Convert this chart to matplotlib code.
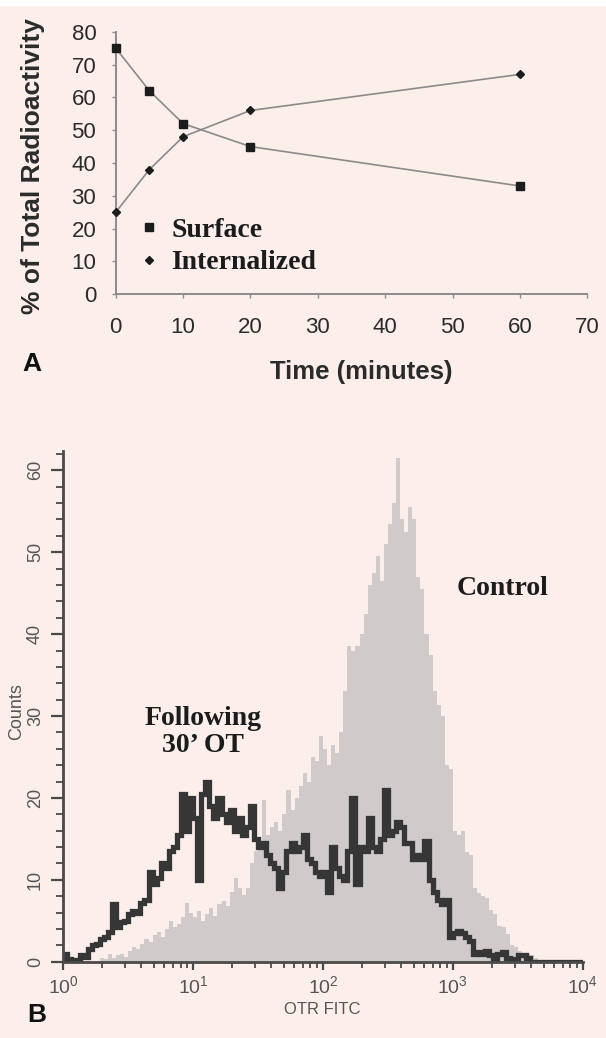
import matplotlib
matplotlib.use('Agg')
import numpy as np
import matplotlib.pyplot as plt
from matplotlib.patches import Rectangle
from matplotlib.ticker import MultipleLocator, LogLocator, NullFormatter

# ---- panel A: surface vs internalized radioactivity ----
times = [0, 5, 10, 20, 60]
surface = [75, 62, 52, 45, 33]
internalized = [25, 38, 48, 56, 67]

# ---- panel B: flow cytometry histograms (32 channels per decade, 10^0..10^4) ----
bins_per_decade = 32
control_counts = [
    0, 0, 0, 0, 0, 0, 0, 0, 0,
    0.5, 0.3, 1.0, 0.5, 0.8, 1.0, 0.6, 1.3,
    1.8, 1.5, 2.2, 2.8, 2.4, 3.2, 3.6, 3.0,
    4.0, 5.0, 4.2, 4.6, 5.5, 7.2, 6.0, 5.4,
    6.2, 5.0, 5.8, 6.5, 5.6, 7.0, 7.4, 6.8,
    8.5, 10.2, 9.0, 8.2, 9.0, 12.0, 13.5, 14.0,
    19.8, 15.5, 16.5, 17.0, 16.0, 18.0, 21.0, 18.5,
    20.0, 21.5, 23.0, 22.0, 25.0, 24.5, 27.5, 26.0,
    24.0, 26.5, 25.5, 28.0, 33.0, 38.5, 38.0, 38.5,
    40.0, 42.5, 46.0, 47.5, 49.6, 46.5, 51.0, 53.5,
    56.0, 61.5, 54.0, 52.5, 55.5, 54.0, 47.0, 45.5,
    40.0, 37.5, 33.0, 31.4, 30.0, 24.0, 23.5, 16.0,
    15.5, 16.0, 13.4, 13.0, 9.0, 8.4, 8.0, 7.8,
    6.3, 5.8, 4.4, 4.2, 3.4, 2.0, 1.8, 1.3,
    1.0, 1.0, 0.8, 0.5,
    0, 0, 0, 0, 0, 0, 0, 0, 0, 0, 0,
]
ot_counts = [
    1.0, 0.3, 0, 0.2, 0.8, 0.6, 1.5, 2.0,
    2.2, 2.8, 3.0, 3.6, 7.0, 4.2, 4.8, 5.0,
    5.8, 6.2, 6.0, 7.2, 7.5, 11.0, 9.5, 10.2,
    12.0, 11.5, 13.5, 14.0, 15.5, 20.5, 16.0, 20.0,
    17.5, 10.0, 20.5, 22.0, 19.0, 17.5, 20.0, 18.0,
    17.0, 18.5, 16.0, 17.5, 15.5, 16.5, 19.0, 15.0,
    14.0, 14.5, 13.0, 12.0, 11.5, 9.0, 11.0, 13.5,
    14.5, 13.5, 14.0, 15.5, 12.5, 12.0, 11.0, 10.5,
    11.0, 8.5, 14.0, 11.5, 10.5, 10.0, 13.5, 20.0,
    9.5, 14.0, 13.5, 17.5, 14.0, 13.5, 15.0, 21.0,
    15.5, 16.0, 17.0, 16.5, 14.5, 14.5, 12.5, 13.0,
    12.5, 14.7, 10.0, 8.5, 7.5, 7.0, 7.5, 3.0,
    3.5, 3.8, 3.5, 3.0, 2.5, 1.0, 1.2, 1.0,
    1.3, 0.8, 0.2, 1.0, 1.2, 0.5, 0.3, 0.2,
    0.8, 0.8, 0.5,
    0, 0, 0, 0, 0, 0, 0, 0, 0, 0, 0, 0, 0,
]

BG = '#fcefeb'
W, H = 606, 1038

plt.rcParams['font.family'] = ['Liberation Sans', 'DejaVu Sans']

fig = plt.figure(figsize=(W / 100, H / 100), dpi=100, facecolor=BG)
fig.patches.append(Rectangle((0, 1 - 5 / H), 1, 5 / H, transform=fig.transFigure,
                             color='white', zorder=0))

# ================= Panel A =================
axA = fig.add_axes([115.7 / W, 1 - 294.3 / H, 471.6 / W, 262.6 / H])
axA.set_facecolor('none')
axA.plot(times, surface, color='#8a8a8a', lw=1.2, zorder=2, clip_on=False)
axA.plot(times, internalized, color='#8a8a8a', lw=1.2, zorder=2, clip_on=False)
axA.plot(times, surface, 's', color='#1c1c1c', ms=5.5, label='Surface',
         zorder=3, clip_on=False)
axA.plot(times, internalized, 'D', color='#1c1c1c', ms=4.2, label='Internalized',
         zorder=3, clip_on=False)

axA.set_xlim(0, 70)
axA.set_ylim(0, 80)
axA.xaxis.set_major_locator(MultipleLocator(10))
axA.yaxis.set_major_locator(MultipleLocator(10))
for s in ['top', 'right']:
    axA.spines[s].set_visible(False)
for s in ['left', 'bottom']:
    axA.spines[s].set_color('#8c8c8c')
    axA.spines[s].set_linewidth(1.4)
axA.tick_params(axis='both', direction='out', length=3, width=1, color='#8c8c8c',
                labelsize=16, labelcolor='#2b2b2b')
axA.tick_params(axis='x', pad=13)
axA.tick_params(axis='y', pad=11)

axA.text(-0.176, 0.489, '% of Total Radioactivity', transform=axA.transAxes,
         rotation=90, ha='center', va='center', fontsize=19, fontweight='bold',
         color='#2b2b2b')
axA.text(0.52, -0.296, 'Time (minutes)', transform=axA.transAxes,
         ha='center', va='center', fontsize=18.5, fontweight='bold', color='#2b2b2b')

leg = axA.legend(loc='center left', bbox_to_anchor=(0.0, 0.182), frameon=False,
                 handlelength=0.6, handletextpad=0.5, labelspacing=0.25,
                 prop={'family': 'Liberation Serif', 'weight': 'bold', 'size': 20})
for t in leg.get_texts():
    t.set_color('#1c1c1c')

fig.text(32 / W, 1 - 364 / H, 'A', ha='center', va='center', fontsize=19,
         fontweight='bold', color='#111111')

# ================= Panel B =================
axB = fig.add_axes([63.3 / W, 1 - 961.7 / H, 519.4 / W, 511 / H])
axB.set_facecolor('none')
edges = 10.0 ** (np.arange(len(control_counts) + 1) / bins_per_decade)
axB.stairs(control_counts, edges, fill=True, color='#d0cbca', zorder=1)
axB.stairs(ot_counts, edges, color='#363636', lw=3.8, zorder=2)

axB.set_xscale('log')
axB.set_xlim(1, 1e4)
axB.set_ylim(0, 62.4)
for s in ['top', 'right']:
    axB.spines[s].set_visible(False)
for s in ['left', 'bottom']:
    axB.spines[s].set_color('#4a4a4a')
    axB.spines[s].set_linewidth(2)

axB.yaxis.set_major_locator(MultipleLocator(10))
axB.yaxis.set_minor_locator(MultipleLocator(2))
axB.xaxis.set_major_locator(LogLocator(base=10))
axB.xaxis.set_minor_locator(LogLocator(base=10, subs=np.arange(2, 10)))
axB.xaxis.set_minor_formatter(NullFormatter())

narrow = ['Liberation Sans Narrow', 'Liberation Sans', 'DejaVu Sans']
axB.tick_params(axis='y', which='major', direction='out', length=9, width=1.6,
                color='#4a4a4a', labelsize=13, labelcolor='#555555', pad=5,
                labelrotation=90)
axB.tick_params(axis='y', which='minor', direction='out', length=5, width=1.3,
                color='#4a4a4a')
axB.tick_params(axis='x', which='major', direction='out', length=6, width=1.6,
                color='#4a4a4a', labelsize=14, labelcolor='#555555', pad=4)
axB.tick_params(axis='x', which='minor', direction='out', length=4, width=1.3,
                color='#4a4a4a')
for lab in axB.get_yticklabels() + axB.get_xticklabels():
    lab.set_family(narrow)
for lab in axB.get_yticklabels():
    lab.set_va('center')

axB.text(-0.089, 0.49, 'Counts', transform=axB.transAxes, rotation=90,
         ha='center', va='center', fontsize=13, color='#555555', family=narrow)
axB.text(0.498, -0.093, 'OTR FITC', transform=axB.transAxes, ha='center',
         va='center', fontsize=12, color='#555555', family=narrow)

axB.text(11.9, 28.1, 'Following\n30\u2019 OT', ha='center', va='center',
         fontsize=20, fontweight='bold', family='Liberation Serif',
         color='#1c1c1c', linespacing=1.1)
axB.text(2430, 45.6, 'Control', ha='center', va='center', fontsize=20,
         fontweight='bold', family='Liberation Serif', color='#1c1c1c')

fig.text(37 / W, 1 - 1015 / H, 'B', ha='center', va='center', fontsize=19,
         fontweight='bold', color='#111111')

fig.savefig('out.png', dpi=100, facecolor=BG)
